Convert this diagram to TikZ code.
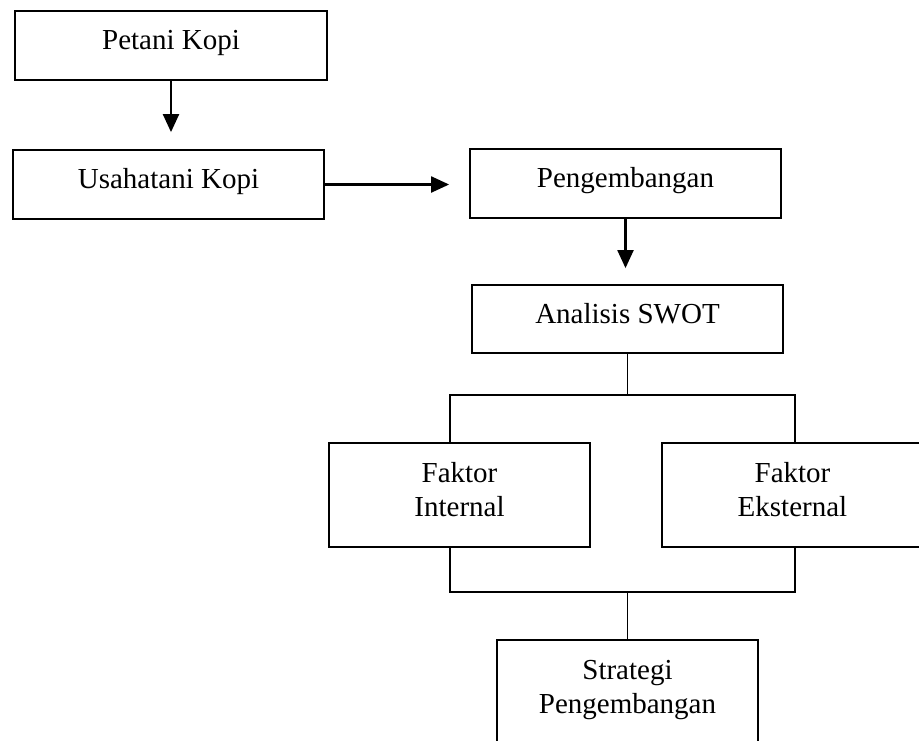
\documentclass[tikz,border=0pt]{standalone}
\usepackage{fontspec}
\setmainfont{Liberation Serif}
\usetikzlibrary{arrows.meta}
\begin{document}
\begin{tikzpicture}[x=1pt,y=-1pt,
  box/.style={draw,line width=1.8pt,rectangle,inner sep=0pt,
    font=\fontsize{29}{34}\selectfont,align=center},
  onebox/.style={box,text height=20pt,text depth=12pt},
  twobox/.style={box,text height=54pt,text depth=12pt},
  arr/.style={line width=2.2pt,-{Triangle[width=16pt,length=18pt]}},
  link/.style={line width=1.5pt}]
\clip (0,0) rectangle (919,740);
\fill[white] (0,0) rectangle (919,740);
\node[onebox,minimum width=312pt,minimum height=69pt] (pet) at (171,45.5) {Petani Kopi};
\node[onebox,minimum width=311pt,minimum height=69pt] (usa) at (168.5,184.5) {Usahatani Kopi};
\node[onebox,minimum width=311pt,minimum height=69pt] (pen) at (625.5,183.5) {Pengembangan};
\node[onebox,minimum width=311pt,minimum height=68pt] (ana) at (627.5,319) {Analisis SWOT};
\node[twobox,minimum width=261pt,minimum height=104pt] (fi) at (459.5,495) {Faktor\\Internal};
\node[twobox,minimum width=261pt,minimum height=104pt] (fe) at (792.5,495) {Faktor\\Eksternal};
\node[twobox,minimum width=261pt,minimum height=104pt] (str) at (627.5,692) {Strategi\\Pengembangan};
\coordinate (tl) at (450,395);
\coordinate (tr) at (795,395);
\coordinate (bl) at (450,592);
\coordinate (br) at (795,592);
\draw[arr,shorten >=17pt] (pet.south) -- (pet.south |- usa.north);
\draw[arr,shorten >=20pt] (usa.east) -- (usa.east -| pen.west);
\draw[arr,shorten >=16pt] (pen.south) -- (pen.south |- ana.north);
\draw[link] (ana.south) -- (ana.south |- tl);
\draw[link] (tl |- fi.north) -- (tl) -- (tr) -- (tr |- fe.north);
\draw[link] (fi.south -| bl) -- (bl) -- (br) -- (fe.south -| br);
\draw[link] (str.north) -- (str.north |- bl);
\end{tikzpicture}
\end{document}
